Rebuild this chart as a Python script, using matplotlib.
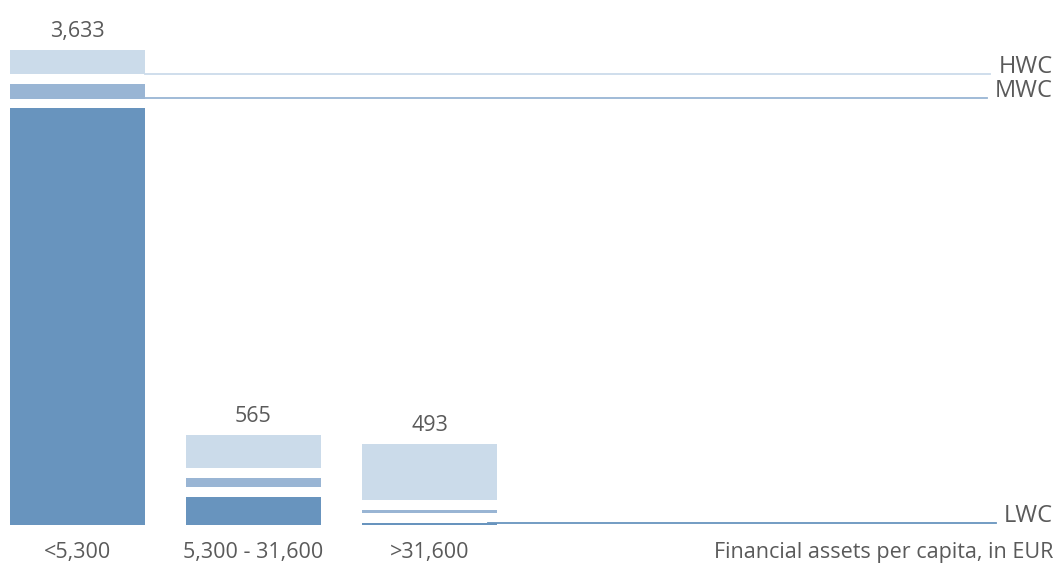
import numpy as np
import matplotlib.pyplot as plt

plt.rcParams['font.family'] = ['Open Sans', 'DejaVu Sans']

# Financial assets per capita brackets and stacked segment values
categories = ['<5,300', '5,300 - 31,600', '>31,600']
totals = [3633, 565, 493]
lwc = [3320, 223, 16]
mwc = [120, 72, 24]
hwc = [193, 270, 453]
series_names = ['LWC', 'MWC', 'HWC']

COLORS = {'LWC': '#6894be', 'MWC': '#99b5d4', 'HWC': '#cbdbea'}
TEXT = '#5a5a5a'
GAP = 78          # white spacer between stacked segments, in data units
WIDTH = 0.767
FONT = dict(fontsize=15.5, color=TEXT)

fig = plt.figure(figsize=(10.58, 5.67), dpi=100)
ax = fig.add_axes([0, 0, 1, 1])
ax.set_xlim(-0.44, 5.571)
ax.set_ylim(-335, 4184)
ax.axis('off')

x = np.arange(len(categories))
bottoms = np.zeros(len(categories))
seg_bottoms = {}
for name, vals in zip(series_names, [lwc, mwc, hwc]):
    vals = np.array(vals, dtype=float)
    seg_bottoms[name] = bottoms.copy()
    ax.bar(x, vals, WIDTH, bottom=bottoms, color=COLORS[name], zorder=2)
    bottoms = bottoms + vals + GAP
tops = bottoms - GAP

# totals above each bar
for xi, top, tot in zip(x, tops, totals):
    ax.annotate(f'{tot:,}', (xi, top), xytext=(0, 13), textcoords='offset pixels',
                ha='center', va='baseline', **FONT)

# category labels under the bars
for xi, cat in zip(x, categories):
    ax.annotate(cat, (xi, 0), xytext=(0, -33), textcoords='offset pixels',
                ha='center', va='baseline', **FONT)
ax.annotate('Financial assets per capita, in EUR', (5.543, 0), xytext=(0, -33),
            textcoords='offset pixels', ha='right', va='baseline', **FONT)

# leader lines to series labels on the right
leaders = [
    ('HWC', seg_bottoms['HWC'][0], WIDTH / 2, 5.185),
    ('MWC', seg_bottoms['MWC'][0] + 8, 0.213, 5.17),
    ('LWC', lwc[2], 2.33, 5.22),
]
for name, y, x0, x1 in leaders:
    ax.plot([x0, x1], [y, y], color=COLORS[name], lw=1.3, zorder=1)
    ax.annotate(name, (5.543, y), xytext=(0, 7), textcoords='offset pixels',
                ha='right', va='center', fontsize=17, color=TEXT)

fig.savefig('out.png', dpi=100)
